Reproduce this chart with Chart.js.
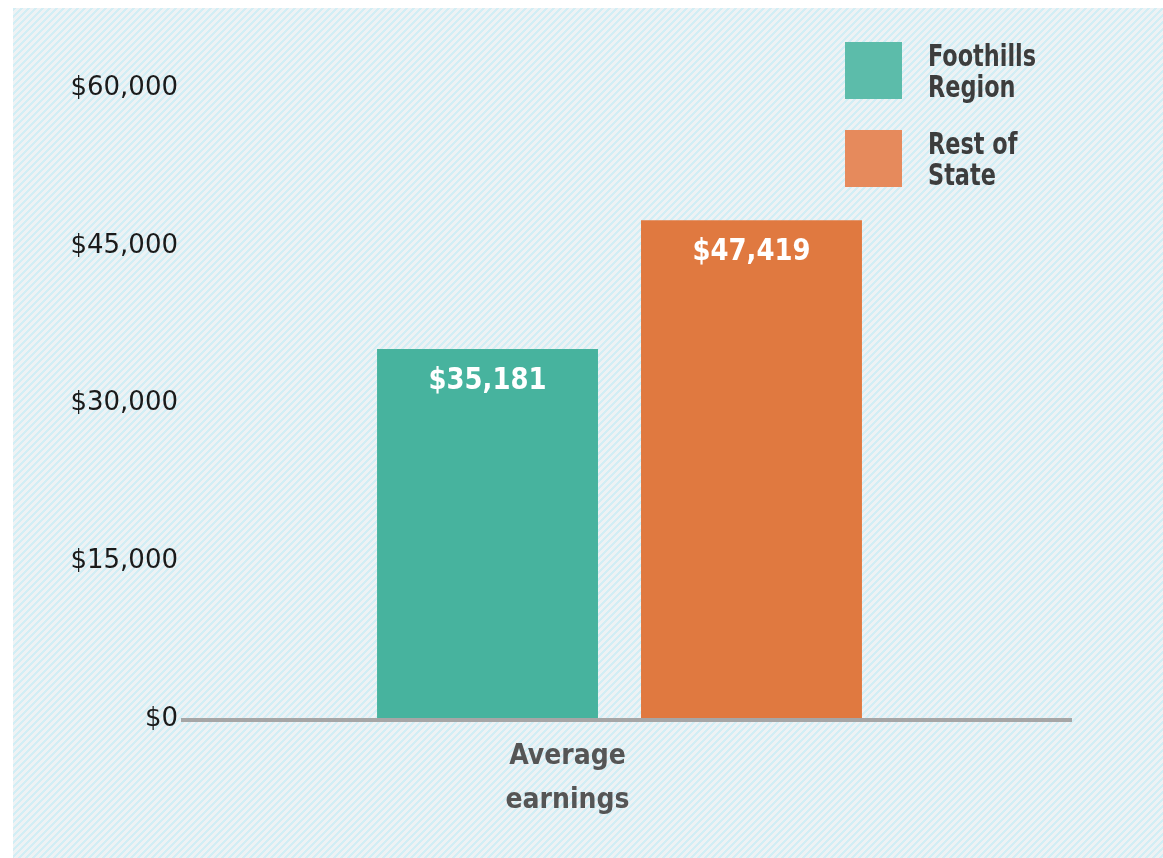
<!DOCTYPE html>
<html lang="en">
<head>
<meta charset="UTF-8">
<title>Average earnings</title>
<script src="https://cdn.jsdelivr.net/npm/chart.js@4.4.1/dist/chart.umd.min.js"></script>
<style>
  html, body { margin: 0; padding: 0; background: #fff; }
  #wrap { width: 1163px; height: 858px; position: relative; }
</style>
<script>
// data
var categories = [['Average', 'earnings']];
var seriesNames = [['Foothills', 'Region'], ['Rest of', 'State']];
var foothills = [35181];
var restOfState = [47419];
var yTicks = [0, 15000, 30000, 45000, 60000];

var barColors = ['#47b39e', '#e07940'];
var legendColors = ['#5cbcaa', '#e68a5c'];
var condensed = '"Liberation Sans Narrow", "DejaVu Sans Condensed", "Roboto Condensed", "Noto Sans", sans-serif';

function money(v) {
  return '$' + Number(v).toLocaleString('en-US');
}
</script>
</head>
<body>
<div id="wrap"><canvas id="chart"></canvas></div>
<script>

// striped light blue panel behind everything
var stripes = {
  id: 'stripes',
  beforeDraw: function(chart) {
    var ctx = chart.ctx;
    var tile = document.createElement('canvas');
    tile.width = 7; tile.height = 7;
    var t = tile.getContext('2d');
    for (var x = 0; x < 7; x++) {
      for (var y = 0; y < 7; y++) {
        t.fillStyle = ((x + y) % 7) < 3 ? '#d2eef5' : '#eef2f4';
        t.fillRect(x, y, 1, 1);
      }
    }
    ctx.save();
    ctx.fillStyle = ctx.createPattern(tile, 'repeat');
    ctx.fillRect(13, 8, chart.width - 13, chart.height - 8);
    ctx.restore();
  }
};

// squeezed text, there is no condensed bold face installed
function narrowText(ctx, text, x, y, squeeze) {
  ctx.save();
  ctx.translate(x, y);
  ctx.scale(squeeze, 1);
  ctx.fillText(text, 0, 0);
  ctx.restore();
}

// grey baseline, labels inside bars, two-line legend
var extras = {
  id: 'extras',
  afterDatasetsDraw: function(chart) {
    var ctx = chart.ctx;
    var area = chart.chartArea;
    var y0 = chart.scales.y.getPixelForValue(0);
    ctx.save();
    ctx.strokeStyle = '#a6a6a6';
    ctx.lineWidth = 4;
    ctx.beginPath();
    ctx.moveTo(area.left, y0 + 1);
    ctx.lineTo(area.right + 14, y0 + 1);
    ctx.stroke();

    ctx.fillStyle = '#ffffff';
    ctx.textAlign = 'center';
    ctx.textBaseline = 'middle';
    ctx.font = 'bold 31px ' + condensed;
    chart.data.datasets.forEach(function(ds, i) {
      chart.getDatasetMeta(i).data.forEach(function(bar, j) {
        narrowText(ctx, money(ds.data[j]), bar.x, bar.y + 32, 0.93);
      });
    });

    ctx.textAlign = 'left';
    ctx.textBaseline = 'middle';
    ctx.font = 'bold 30px ' + condensed;
    chart.data.datasets.forEach(function(ds, i) {
      var top = 42 + i * 88;
      ctx.fillStyle = legendColors[i];
      ctx.fillRect(845, top, 57, 57);
      ctx.fillStyle = '#3d3d3d';
      ds.label.forEach(function(line, k) {
        narrowText(ctx, line, 928, top + 16 + k * 31, 0.83);
      });
    });
    ctx.restore();
  }
};

window.onload = function() {
  var ctx = document.getElementById('chart').getContext('2d');
  window.myChart = new Chart(ctx, {
    type: 'bar',
    data: {
      labels: categories,
      datasets: [
        { label: seriesNames[0], data: foothills, backgroundColor: barColors[0] },
        { label: seriesNames[1], data: restOfState, backgroundColor: barColors[1] }
      ]
    },
    options: {
      responsive: true,
      maintainAspectRatio: false,
      animation: false,
      events: [],
      categoryPercentage: 0.602,
      barPercentage: 0.837,
      layout: { padding: { left: 0, right: 105, top: 88, bottom: 0 } },
      plugins: {
        legend: { display: false },
        tooltip: { enabled: false }
      },
      scales: {
        x: {
          grid: { display: false, drawTicks: false },
          border: { display: false },
          afterFit: function(scale) { scale.height = 139; },
          ticks: {
            color: '#555555',
            padding: 15,
            labelOffset: -52,
            maxRotation: 0,
            autoSkip: false,
            font: { family: condensed, size: 28, weight: 'bold', lineHeight: 1.6 }
          }
        },
        y: {
          min: 0,
          max: 60000,
          grid: { display: false, drawTicks: false },
          border: { display: false },
          afterFit: function(scale) { scale.width = 181; },
          afterBuildTicks: function(scale) {
            scale.ticks = yTicks.map(function(v) { return { value: v }; });
          },
          ticks: {
            color: '#1a1a1a',
            padding: 3,
            font: { family: '"DejaVu Sans", sans-serif', size: 26 },
            callback: function(v) { return money(v); }
          }
        }
      }
    },
    plugins: [stripes, extras]
  });
};
</script>
</body>
</html>
